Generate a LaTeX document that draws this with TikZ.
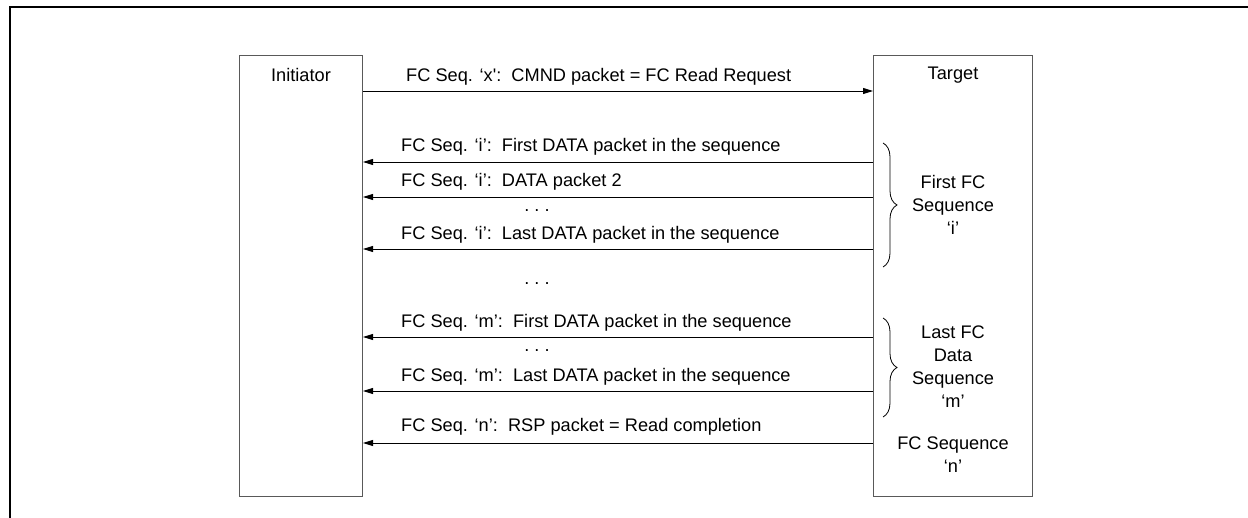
\documentclass[tikz,border=0pt]{standalone}
\usepackage{fontspec}
\setmainfont{Liberation Sans}
\usetikzlibrary{arrows.meta,decorations.pathreplacing}

\tikzset{
  party/.style={draw=black!65, line width=1pt, minimum width=123pt, minimum height=441pt, anchor=north west, inner sep=0pt},
  msg/.style={anchor=west, inner sep=0pt},
  note/.style={align=center, inner sep=0pt},
  pkt/.style={-{Triangle[length=10pt,width=6pt]}, line width=0.9pt},
  seqbrace/.style={decorate, decoration={brace, amplitude=14pt}, line width=0.8pt}
}

\begin{document}
\begin{tikzpicture}[x=1pt, y=-1pt, font=\fontsize{18.2}{23}\selectfont]
    \useasboundingbox (0,0) rectangle (1248,518);
    \clip (0,0) rectangle (1248,518);

    % outer frame (only left and top edges visible)
    \draw[line width=2pt] (10,540) -- (10,7) -- (1270,7);

    % initiator and target boxes
    \node[party] (init) at (239,55) {};
    \node[party, minimum width=159pt] (targ) at (873,55) {};
    \node (initname) at (init.north |- 0,75) {Initiator};
    \node (targname) at (targ.north |- 0,75) {Target};

    % read request
    \node[msg] (req) at (406,77) {FC Seq. `x\textquotesingle:~~CMND packet = FC Read Request};
    \draw[pkt] (init.east |- 0,91) -- (targ.west |- 0,91);

    % first FC sequence 'i'
    \node[msg] (ifirst) at (401,147) {FC Seq. `i':~~First DATA packet in the sequence};
    \draw[pkt] (targ.west |- 0,162) -- (init.east |- 0,162);
    \node[msg] (isecond) at (401,182) {FC Seq. `i':~~DATA packet 2};
    \draw[pkt] (targ.west |- 0,197) -- (init.east |- 0,197);
    \node (idots) at (537,211) {.\ .\ .};
    \node[msg] (ilast) at (401,235) {FC Seq. `i':~~Last DATA packet in the sequence};
    \draw[pkt] (targ.west |- 0,249) -- (init.east |- 0,249);

    \node (gapdots) at (537,284) {.\ .\ .};

    % last FC data sequence 'm'
    \node[msg] (mfirst) at (401,323) {FC Seq. `m':~~First DATA packet in the sequence};
    \draw[pkt] (targ.west |- 0,337) -- (init.east |- 0,337);
    \node (mdots) at (537,351) {.\ .\ .};
    \node[msg] (mlast) at (401,377) {FC Seq. `m':~~Last DATA packet in the sequence};
    \draw[pkt] (targ.west |- 0,391) -- (init.east |- 0,391);

    % response
    \node[msg] (rsp) at (401,427) {FC Seq. `n':~~RSP packet = Read completion};
    \draw[pkt] (targ.west |- 0,443) -- (init.east |- 0,443);

    % sequence braces and notes
    \draw[seqbrace] (883,143) -- (883,267);
    \draw[seqbrace] (883,318) -- (883,417);
    \node[note] (inote) at (953,205) {First FC\\Sequence\\`i'};
    \node[note] (mnote) at (953,367) {Last FC\\Data\\Sequence\\`m'};
    \node[note] (nnote) at (953,455) {FC Sequence\\`n'};
\end{tikzpicture}
\end{document}
